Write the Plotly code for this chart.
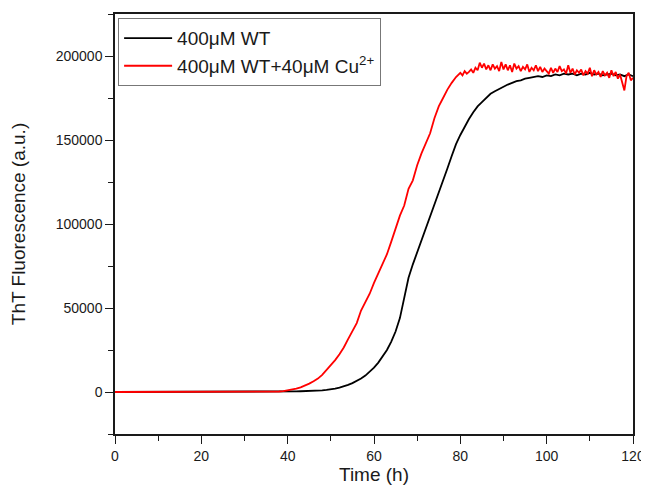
import plotly.graph_objects as go

# ---- data ----
# time grids (h)
wt_time = [0, 5, 10, 15, 20, 25, 30, 35] + list(range(36, 121))
cu_time = [0, 5, 10, 15, 20, 25, 30, 35] + list(range(36, 80)) + [80 + 0.5 * i for i in range(81)]

# 400 uM WT (black)
wt = [0, 0, 0, 0, 0, 0, 100, 150,
      200, 220, 250, 270, 300, 350, 400, 450, 500, 600, 700, 800, 1000, 1200,   # 36-49
      1500, 2000, 2600, 3300, 4200, 5300, 6500, 8000, 9800, 12000,              # 50-59
      14500, 17500, 21000, 25000, 30000, 36000, 44000, 57000, 68000, 76000,     # 60-69
      83000, 90000, 97000, 104000, 111500, 118500, 125500, 133000, 140500, 147500,  # 70-79
      153000, 158000, 162500, 166500, 170000, 172500, 175000, 177500, 179000, 180500,  # 80-89
      182000, 183000, 184000, 185000, 185500, 186500, 187000, 187500, 188000, 187500,  # 90-99
      188500, 188000, 189000, 188500, 189500, 189000, 189500, 188500, 189500, 189000,  # 100-109
      190000, 189000, 189500, 188500, 189000, 189500, 188500, 189000, 188000, 189000,  # 110-119
      188000]                                                                    # 120

# 400 uM WT + 40 uM Cu2+ (red)
wt_cu = [0, 0, 0, 0, 0, 0, 100, 150,
         200, 250, 300, 500, 900, 1400, 2000, 2800, 3800, 5000, 6400, 8000, 10200, 13000,  # 36-49
         15800, 19000, 22500, 26500, 31500, 36000, 41000, 48500, 53500, 58500,            # 50-59
         65000, 70500, 76000, 82000, 89500, 97500, 105000, 111000, 121000, 126000,        # 60-69
         135000, 142000, 148000, 154000, 163000, 170000, 175000, 180000, 184000, 187500,  # 70-79
         190000, 188500, 191000, 189500, 190500, 192000, 190000, 193000, 191500, 196000,  # 80-84.5
         193000, 195500, 192000, 194500, 191500, 195000, 192500, 194000, 191000, 196500,  # 85-89.5
         192000, 195000, 191500, 194500, 190500, 195500, 192500, 194000, 191000, 193500,  # 90-94.5
         192000, 195000, 190500, 193000, 191500, 194500, 191000, 193500, 190500, 192500,  # 95-99.5
         191000, 189500, 193000, 190000, 192500, 190500, 194000, 191000, 192000, 189500,  # 100-104.5
         194500, 190000, 192500, 189000, 191500, 190000, 192000, 188500, 191000, 189500,  # 105-109.5
         193000, 188000, 191500, 189000, 190500, 187500, 191000, 188500, 190000, 187000,  # 110-114.5
         191500, 188000, 190500, 186500, 189000, 184000, 179500, 188000, 190000, 185500,  # 115-119.5
         187000]                                                                          # 120

x_ticks = [0, 20, 40, 60, 80, 100, 120]
y_ticks = [0, 50000, 100000, 150000, 200000]
y_tick_text = ["0", "50000", "100000", "150000", "200000"]

FONT = "Liberation Sans, Arial, sans-serif"
INK = "#1a1a1a"

fig = go.Figure()
fig.add_trace(go.Scatter(x=wt_time, y=wt, mode="lines", name="400μM WT",
                         line=dict(color="black", width=1.8)))
fig.add_trace(go.Scatter(x=cu_time, y=wt_cu, mode="lines",
                         name="400μM WT+40μM Cu<sup>2+</sup>",
                         line=dict(color="#ff0000", width=1.8)))

axis_common = dict(showline=True, linecolor=INK, linewidth=1.5, mirror=True,
                   showgrid=False, zeroline=False, ticks="outside", ticklen=8,
                   tickwidth=1.3, tickcolor=INK, automargin=False,
                   tickfont=dict(family=FONT, size=14, color=INK))

fig.update_xaxes(range=[0, 120], tickvals=x_ticks,
                 minor=dict(dtick=10, tick0=0, ticks="outside", ticklen=5,
                            tickwidth=1.2, tickcolor=INK),
                 title=dict(text="Time (h)", font=dict(family=FONT, size=19, color=INK),
                            standoff=4),
                 **axis_common)
fig.update_yaxes(range=[-25000, 225000], tickvals=y_ticks, ticktext=y_tick_text,
                 minor=dict(dtick=25000, tick0=0, ticks="outside", ticklen=5,
                            tickwidth=1.2, tickcolor=INK),
                 title=dict(text="ThT Fluorescence (a.u.)",
                            font=dict(family=FONT, size=19, color=INK), standoff=26),
                 **axis_common)

# the page body adds an 8px offset; size the figure to fit the 649x490 window
fig.update_layout(
    width=641, height=482,
    margin=dict(l=107, r=16, t=6, b=56),
    paper_bgcolor="white", plot_bgcolor="white",
    font=dict(family=FONT, color=INK),
    legend=dict(x=0.006, y=0.99, xanchor="left", yanchor="top",
                bordercolor="#777", borderwidth=1, bgcolor="white",
                font=dict(family=FONT, size=19, color=INK),
                tracegroupgap=0, itemwidth=48),
    showlegend=True,
)

fig.write_html("out.html")
